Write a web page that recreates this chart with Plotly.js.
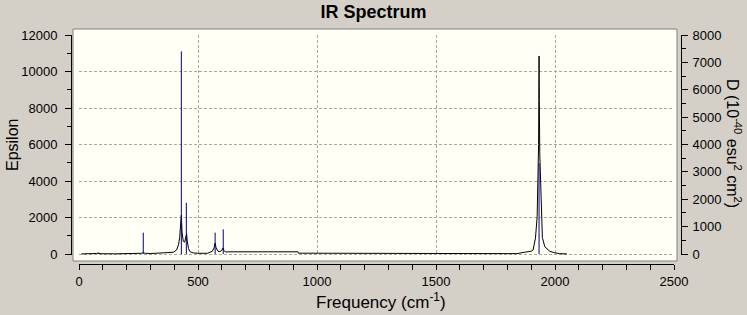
<!DOCTYPE html>
<html>
<head>
<meta charset="utf-8">
<script src="https://cdn.plot.ly/plotly-3.0.1.min.js"></script>
<style>
html,body{margin:0;padding:0;background:#d4d0c8;}
#chart{width:747px;height:315px;}
</style>
</head>
<body>
<div id="chart"></div>
<script>
// Broadened spectrum (Epsilon)
var specFreq = [10, 60, 75, 81, 88, 150, 240, 262, 270, 278, 300, 350, 380, 396, 410, 418, 423, 427, 430, 433, 438, 444, 449, 452, 455, 460, 466, 480, 500, 540, 560, 568, 572, 576, 584, 592, 600, 605, 609, 615, 630, 920, 922, 1520, 1524, 1840, 1873, 1900, 1908, 1918, 1925, 1929, 1931, 1932, 1933, 1934, 1936, 1939, 1943, 1947, 1957, 1978, 2000, 2020, 2050];
var specEps  = [5, 10, 30, 60, 15, 10, 15, 40, 75, 40, 25, 40, 70, 95, 220, 500, 900, 1700, 2130, 1200, 700, 650, 1000, 1100, 700, 300, 130, 60, 40, 40, 150, 350, 600, 350, 150, 130, 200, 330, 200, 110, 120, 120, 45, 45, 5, 20, 100, 150, 220, 880, 2040, 3900, 6000, 8400, 10850, 8400, 5500, 3900, 2040, 900, 400, 150, 60, 20, 5];

// Stick lines (D, right axis)
var stickFreq = [81, 270, 430, 451, 572, 606, 1933];
var stickD    = [40, 780, 7400, 1870, 780, 900, 3320];

// Axis ticks
var xTicks = [0, 500, 1000, 1500, 2000, 2500];
var yTicks = [0, 2000, 4000, 6000, 8000, 10000, 12000];
var y2Ticks = [0, 1000, 2000, 3000, 4000, 5000, 6000, 7000, 8000];

var sx = [], sy = [];
for (var i = 0; i < stickFreq.length; i++) {
  sx.push(stickFreq[i], stickFreq[i], null);
  sy.push(0, stickD[i], null);
}

var W = 747, H = 315;
var mL = 71, mR = 66, mT = 35, mB = 51;
var pw = W - mL - mR, ph = H - mT - mB;
function px(x){ return (x - mL) / pw; }
function py(y){ return (H - mB - y) / ph; }

var tickFont = {family: 'Liberation Sans, Arial, sans-serif', size: 13, color: '#000'};
var titleFont = {family: 'Liberation Sans, Arial, sans-serif', size: 16, color: '#000'};

var traces = [
  {x: specFreq, y: specEps, type: 'scatter', mode: 'lines', line: {color: '#000000', width: 1}, xaxis: 'x', yaxis: 'y', hoverinfo: 'skip'},
  {x: sx, y: sy, type: 'scatter', mode: 'lines', line: {color: '#000080', width: 1}, xaxis: 'x', yaxis: 'y2', hoverinfo: 'skip'}
];

var layout = {
  width: W, height: H,
  margin: {l: mL, r: mR, t: mT, b: mB, pad: 0},
  paper_bgcolor: '#d4d0c8',
  plot_bgcolor: 'rgba(0,0,0,0)',
  showlegend: false,
  title: {text: '<b>IR Spectrum</b>', xref: 'container', yref: 'container', x: 0.5, xanchor: 'center', y: 1 - 12/315, yanchor: 'middle',
          font: {family: 'Liberation Sans, Arial, sans-serif', size: 18, color: '#000'}},
  xaxis: {
    domain: [px(79), px(674)], range: [0, 2500], anchor: 'free', position: 0,
    tickvals: xTicks, ticktext: xTicks.map(String),
    ticks: 'outside', ticklen: 5, tickcolor: '#000', tickwidth: 1,
    minor: {dtick: 100, tick0: 0, ticks: 'outside', ticklen: 5, tickcolor: '#000', showgrid: false},
    showline: true, linecolor: '#000', linewidth: 1,
    showgrid: true, gridcolor: '#a8a8a0', griddash: '3px,2px', gridwidth: 1,
    zeroline: false, tickfont: tickFont, ticklabelstandoff: 0
  },
  yaxis: {
    domain: [py(255.1), 1], range: [-60, 12000], anchor: 'free', position: 0,
    tickvals: yTicks, ticktext: yTicks.map(String),
    ticks: 'outside', ticklen: 6, tickcolor: '#000', tickwidth: 1,
    minor: {dtick: 1000, tick0: 0, ticks: 'outside', ticklen: 4, tickcolor: '#000', showgrid: false},
    showline: true, linecolor: '#000', linewidth: 1,
    showgrid: true, gridcolor: '#a8a8a0', griddash: '3px,2px', gridwidth: 1,
    zeroline: false, tickfont: tickFont, ticklabelstandoff: 5
  },
  yaxis2: {
    domain: [py(255.1), 1], range: [-40, 8000], overlaying: 'y', side: 'right', anchor: 'free', position: 1,
    tickvals: y2Ticks, ticktext: y2Ticks.map(String),
    ticks: 'outside', ticklen: 6, tickcolor: '#000', tickwidth: 1,
    minor: {dtick: 500, tick0: 0, ticks: 'outside', ticklen: 4, tickcolor: '#000', showgrid: false},
    showline: true, linecolor: '#000', linewidth: 1,
    showgrid: false, zeroline: false, tickfont: tickFont, ticklabelstandoff: 2
  },
  shapes: [
    {type: 'rect', xref: 'paper', yref: 'paper', x0: px(73), x1: px(677), y0: py(261), y1: py(29),
     fillcolor: '#fffff5', line: {color: '#808080', width: 1}, layer: 'below'}
  ],
  annotations: [
    {text: 'Epsilon', xref: 'paper', yref: 'paper', x: px(12), y: py(145), xanchor: 'center', yanchor: 'middle',
     textangle: -90, showarrow: false, font: titleFont},
    {text: 'Frequency (cm<sup>-1</sup>)', xref: 'paper', yref: 'paper', x: px(381), y: py(301), xanchor: 'center', yanchor: 'middle',
     showarrow: false, font: {family: 'Liberation Sans, Arial, sans-serif', size: 17, color: '#000'}},
    {text: 'D (10<sup>-40</sup> esu<sup>2</sup> cm<sup>2</sup>)', xref: 'paper', yref: 'paper', x: px(734), y: py(143), xanchor: 'center', yanchor: 'middle',
     textangle: 90, showarrow: false, font: titleFont}
  ]
};

Plotly.newPlot('chart', traces, layout, {staticPlot: true, displayModeBar: false});
</script>
</body>
</html>
